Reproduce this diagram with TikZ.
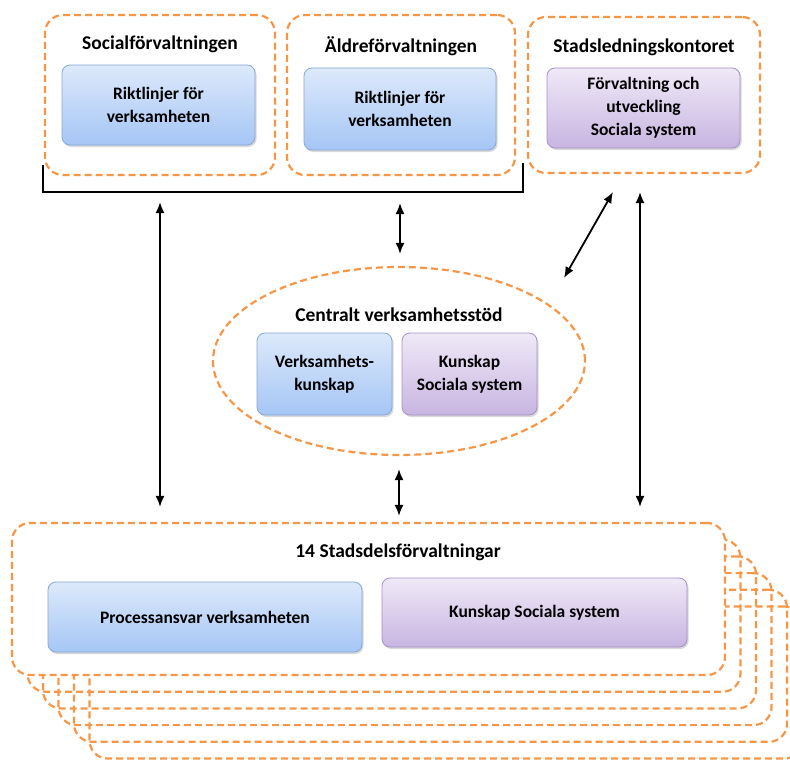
\documentclass[tikz,border=0pt]{standalone}
\usepackage{fontspec}
\setmainfont{Carlito}
\usetikzlibrary{arrows.meta, calc, shapes.geometric, shadows}

\definecolor{frameorange}{HTML}{F79646}
\definecolor{bluetop}{HTML}{DDE9FB}
\definecolor{bluebot}{HTML}{A5C6F5}
\definecolor{blueline}{HTML}{86A8D8}
\definecolor{purptop}{HTML}{EFE9F7}
\definecolor{purpbot}{HTML}{C8B5E1}
\definecolor{purpline}{HTML}{A690C6}

\tikzset{
  frame/.style={draw=frameorange, line width=2.2pt, dash pattern=on 7pt off 4pt,
    rounded corners=18pt, inner sep=0pt},
  title/.style={font=\fontsize{19.5}{23}\selectfont\bfseries, inner sep=0pt},
  bluebox/.style={draw=blueline, line width=0.8pt, rounded corners=8pt,
    top color=bluetop, bottom color=bluebot, align=center,
    font=\fontsize{17.5}{23}\selectfont\bfseries,
    drop shadow={shadow xshift=1.5pt, shadow yshift=-2pt, opacity=0.3}},
  purpbox/.style={bluebox, draw=purpline, top color=purptop, bottom color=purpbot},
  dbl/.style={{Latex[length=11pt,width=9pt]}-{Latex[length=11pt,width=9pt]},
    line width=1.8pt, black},
  bracket/.style={line width=2pt, black}
}

\begin{document}
\begin{tikzpicture}[x=1pt, y=-1pt]
  \useasboundingbox (0,0) rectangle (790,760);

  % top row
  \node[frame, minimum width=230pt, minimum height=160pt] (socfrm) at (160,95) {};
  \node[title] (soctitle) at (160,44) {Socialförvaltningen};
  \node[bluebox, minimum width=193pt, minimum height=80pt] (socbox) at (158.5,105)
    {Riktlinjer för\\verksamheten};

  \node[frame, minimum width=228pt, minimum height=160pt] (aldfrm) at (401,95) {};
  \node[title] (aldtitle) at (401,46) {Äldreförvaltningen};
  \node[bluebox, minimum width=192pt, minimum height=82pt] (aldbox) at (400,109)
    {Riktlinjer för\\verksamheten};

  \node[frame, minimum width=232pt, minimum height=156pt] (stadfrm) at (644,95) {};
  \node[title] (stadtitle) at (644,47) {Stadsledningskontoret};
  \node[purpbox, minimum width=193pt, minimum height=80pt] (stadbox) at (643.5,108)
    {Förvaltning och\\utveckling\\Sociala system};

  % bracket under the two first frames
  \coordinate (brTL) at (43,165);
  \coordinate (brBL) at (43,192);
  \coordinate (brBR) at (523,192);
  \coordinate (brTR) at (523,163);
  \draw[bracket] (brTL) -- (brBL) -- (brBR) -- (brTR);

  % central support
  \node[frame, ellipse, minimum width=372pt, minimum height=188pt] (cvs) at (399,361) {};
  \node[title] (cvstitle) at (399,315) {Centralt verksamhetsstöd};
  \node[bluebox, minimum width=135pt, minimum height=82pt] (vkbox) at (324.5,374)
    {Verksamhets-\\kunskap};
  \node[purpbox, minimum width=135pt, minimum height=82pt] (ksbox) at (469.5,374)
    {Kunskap\\Sociala system};

  % 14 city districts, stacked
  \foreach \k in {5,4,...,1}
    \node[frame, minimum width=713pt, minimum height=152pt] (sdfback\k)
      at ($(368.5,599)+(\k*15.5,\k*16.7)$) {};
  \node[frame, fill=white, minimum width=713pt, minimum height=152pt] (sdf) at (368.5,599) {};
  \node[title] (sdftitle) at (398,552) {14 Stadsdelsförvaltningar};
  \node[bluebox, minimum width=314pt, minimum height=70pt] (prbox) at (205,617)
    {Processansvar verksamheten};
  \node[purpbox, minimum width=305pt, minimum height=69pt] (kssbox) at (534.5,612.5)
    {Kunskap Sociala system};

  % arrows
  \coordinate (armL) at (160,192);
  \coordinate (armM) at (400,192);
  \coordinate (armR) at (640,173);
  \coordinate (diagA) at (613,192);
  \coordinate (diagB) at (564,278);
  \draw[dbl, shorten <=10pt, shorten >=15pt] (armL) -- (armL |- sdf.north);
  \draw[dbl, shorten <=11pt, shorten >=12pt] (armM) -- (armM |- cvs.north);
  \draw[dbl] (diagA) -- (diagB);
  \draw[dbl, shorten <=19pt, shorten >=15pt] (armR) -- (armR |- sdf.north);
  \draw[dbl, shorten <=13pt, shorten >=6pt] (cvs.south) -- (cvs.south |- sdf.north);
\end{tikzpicture}
\end{document}
